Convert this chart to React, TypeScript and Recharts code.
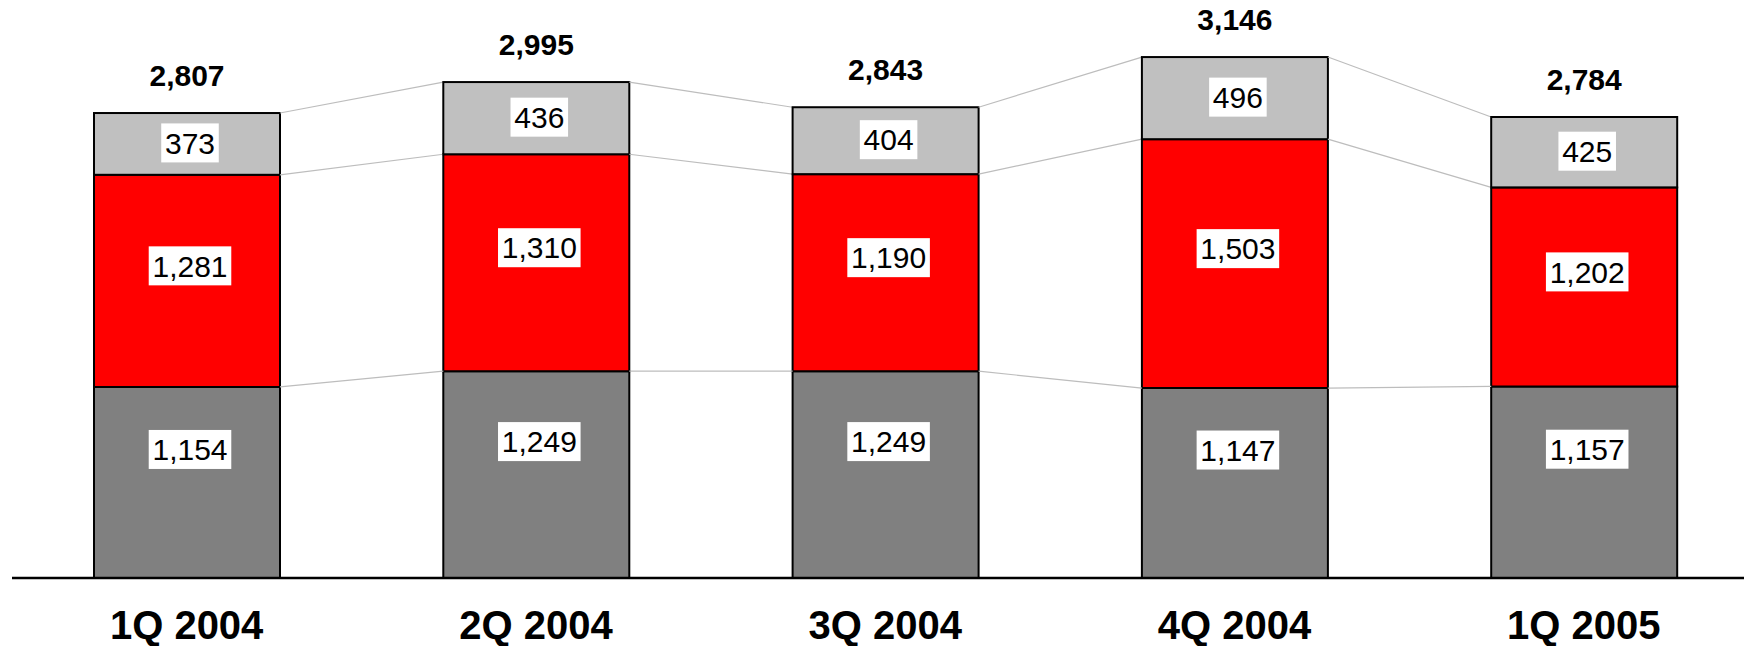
import React from 'react';
import { BarChart, Bar, XAxis, YAxis, LabelList } from 'recharts';

// quarterly figures, stacked bottom to top
const quarters = ['1Q 2004', '2Q 2004', '3Q 2004', '4Q 2004', '1Q 2005'];
const baseValues = [1154, 1249, 1249, 1147, 1157];
const midValues = [1281, 1310, 1190, 1503, 1202];
const topValues = [373, 436, 404, 496, 425];
const totals = [2807, 2995, 2843, 3146, 2784];

const data = quarters.map((quarter, i) => ({
  quarter,
  base: baseValues[i],
  mid: midValues[i],
  top: topValues[i],
  total: totals[i],
}));

const FONT = '"Liberation Sans", Arial, Helvetica, sans-serif';
const fmt = (v: number) => v.toLocaleString('en-US');

// rough Arial metrics at 30px, used to size the white label boxes
const textWidth = (s: string) =>
  s.split('').reduce((w, ch) => w + (ch === ',' ? 8.34 : 16.68), 0);

const boxLabel = (dy: number) => (props: any) => {
  const { x, y, width, height } = props.viewBox ?? props;
  const text = fmt(Number(props.value));
  const w = textWidth(text) + 7.5;
  const cx = x + width / 2 + 3;
  const cy = y + height / 2 + dy;
  return (
    <g>
      <rect x={cx - w / 2} y={cy - 19.5} width={w} height={39} fill="#fff" />
      <text x={cx} y={cy + 10.7} textAnchor="middle" fontSize={30} fontFamily={FONT} fill="#000">
        {text}
      </text>
    </g>
  );
};

const totalLabel = (props: any) => {
  const { x, y, width } = props.viewBox ?? props;
  return (
    <text
      x={x + width / 2}
      y={y - 27}
      textAnchor="middle"
      fontSize={30}
      fontWeight="bold"
      fontFamily={FONT}
      fill="#000"
    >
      {fmt(Number(props.value))}
    </text>
  );
};

// right edges of the top segments, filled in as the bars render left to right
const rightEdges: number[] = [];

const cumulative = (d: typeof data[number]) => [d.base, d.base + d.mid, d.base + d.mid + d.top];

// top segment, plus the thin series lines joining it to the previous bar
const TopSegment = (props: any) => {
  const { x, y, width, height, index, payload } = props;
  rightEdges[index] = x + width;
  const s = height / payload.top;
  const y0 = y + height + (payload.base + payload.mid) * s;
  const prevRight = rightEdges[index - 1];
  const links =
    index > 0 && prevRight !== undefined
      ? cumulative(data[index - 1]).map((prev, k) => (
          <line
            key={k}
            x1={prevRight}
            y1={y0 - prev * s}
            x2={x}
            y2={y0 - cumulative(payload)[k] * s}
            stroke="#bdbdbd"
            strokeWidth={1.2}
          />
        ))
      : null;
  return (
    <g>
      {links}
      <rect x={x} y={y} width={width} height={height} fill="#C0C0C0" stroke="#000" strokeWidth={2} />
    </g>
  );
};

const QuarterTick = (props: any) => {
  const { x, y, payload } = props;
  return (
    <text x={x} y={y + 61} textAnchor="middle" fontSize={40} fontWeight="bold" fontFamily={FONT} fill="#000">
      {payload.value}
    </text>
  );
};

export default function App() {
  return (
    <div style={{ position: 'absolute', left: 0, top: 0, width: 1744, height: 646, background: '#fff' }}>
      <BarChart
        width={1744}
        height={646}
        data={data}
        margin={{ top: 15, right: 0, left: 12, bottom: 0 }}
        barSize={186}
      >
        <XAxis
          dataKey="quarter"
          height={68}
          padding={{ left: 0, right: -14.5 }}
          axisLine={{ stroke: '#000', strokeWidth: 2.5 }}
          tickLine={false}
          tickSize={0}
          tickMargin={0}
          interval={0}
          tick={<QuarterTick />}
        />
        <YAxis hide domain={[0, 3400]} />
        <Bar dataKey="base" stackId="q" fill="#808080" stroke="#000" strokeWidth={2} isAnimationActive={false}>
          <LabelList dataKey="base" content={boxLabel(-33)} />
        </Bar>
        <Bar dataKey="mid" stackId="q" fill="#FF0000" stroke="#000" strokeWidth={2} isAnimationActive={false}>
          <LabelList dataKey="mid" content={boxLabel(-15)} />
        </Bar>
        <Bar dataKey="top" stackId="q" shape={<TopSegment />} isAnimationActive={false}>
          <LabelList dataKey="top" content={boxLabel(-1)} />
          <LabelList dataKey="total" content={totalLabel} />
        </Bar>
      </BarChart>
    </div>
  );
}
